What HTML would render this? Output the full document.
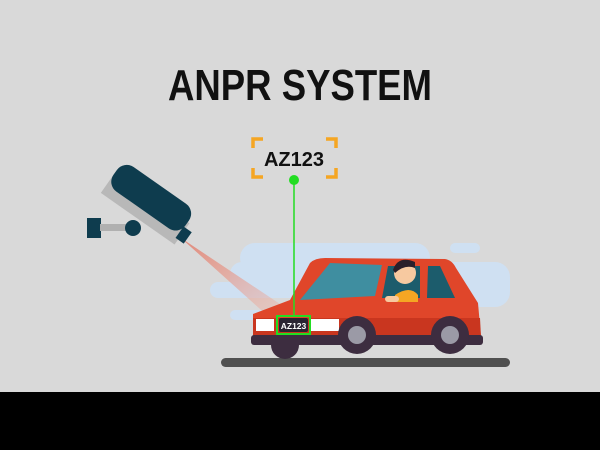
<!DOCTYPE html>
<html><head><meta charset="utf-8"><style>
html,body{margin:0;padding:0;width:600px;height:450px;overflow:hidden;background:#d9d9d9}
svg{display:block}
</style></head><body>
<svg width="600" height="450" viewBox="0 0 600 450" xmlns="http://www.w3.org/2000/svg">
<defs>
<linearGradient id="beam" x1="0" y1="0" x2="1" y2="1">
<stop offset="0" stop-color="#e07a6a" stop-opacity="0.95"/>
<stop offset="1" stop-color="#f0b0a0" stop-opacity="0.3"/>
</linearGradient>
</defs>
<rect x="0" y="0" width="600" height="450" fill="#d9d9d9"/>
<rect x="0" y="392" width="600" height="58" fill="#000"/>
<text x="300" y="100" text-anchor="middle" font-family="Liberation Sans, sans-serif" font-weight="bold" font-size="44" textLength="264" lengthAdjust="spacingAndGlyphs" fill="#111">ANPR SYSTEM</text>

<g stroke="#f5a623" stroke-width="3.5" fill="none">
<path d="M253,148 V139 H263"/><path d="M326,139 H336 V148"/>
<path d="M253,168 V177 H263"/><path d="M326,177 H336 V168"/>
</g>
<text x="294" y="166" text-anchor="middle" font-family="Liberation Sans, sans-serif" font-weight="bold" font-size="20" fill="#111">AZ123</text>

<g fill="#cfe0f2">
<rect x="240" y="243" width="190" height="30" rx="15"/>
<rect x="210" y="282" width="120" height="16" rx="8"/>
<rect x="230" y="262" width="140" height="30" rx="12"/>
<rect x="410" y="262" width="100" height="45" rx="15"/>
<rect x="380" y="247" width="30" height="10" rx="5"/>
<rect x="450" y="243" width="30" height="10" rx="5"/>
<rect x="230" y="310" width="40" height="10" rx="5"/>
</g>

<polygon points="172,230 184,240 292,312 270,318" fill="url(#beam)"/>

<g>
<rect x="87" y="218" width="14" height="20" fill="#0e3c4e"/>
<rect x="100" y="224" width="40" height="7" fill="#b0b0b0"/>
<circle cx="133" cy="228" r="8" fill="#0e3c4e"/>
<g transform="translate(148,204) rotate(35)">
<rect x="-45" y="-8" width="90" height="26" fill="#b8b8b8"/>
<rect x="-45" y="-22" width="88" height="30" rx="12" fill="#0e3c4e"/>
<rect x="42" y="-2" width="10" height="14" fill="#0e3c4e"/>
</g>
</g>

<rect x="221" y="358" width="289" height="9" rx="4.5" fill="#505050"/>

<g>
<circle cx="285" cy="345" r="14" fill="#3d2d40"/>
<path d="M253,314 L290,300 L310,263 Q315,258 325,258 L445,259 Q452,260 456,268 L478,303 L481,337 L253,337 Z" fill="#e0462a"/>
<path d="M330,263 L300,300 L375,296 L382,265 Z" fill="#3f8ea0"/>
<path d="M440,266 L428,266 L427,298 L455,298 Z" fill="#1c5c6c"/>
<path d="M388,266 L382,298 L420,298 L420,266 Z" fill="#1c5c6c"/>
<path d="M253,318 L480,318 L481,337 L253,337 Z" fill="#c9361f"/>
<rect x="256" y="319" width="18" height="12" fill="#fff"/>
<rect x="311" y="319" width="28" height="12" fill="#fff"/>
<rect x="251" y="335" width="232" height="10" rx="3" fill="#3d2d40"/>
<circle cx="357" cy="335" r="19" fill="#3d2d40"/><circle cx="357" cy="335" r="9" fill="#9b9aa6"/>
<circle cx="450" cy="335" r="19" fill="#3d2d40"/><circle cx="450" cy="335" r="9" fill="#9b9aa6"/>
<g>
<path d="M395,295 Q410,285 418,295 L418,302 L395,302 Z" fill="#f5a623"/>
<circle cx="405" cy="273" r="11" fill="#f7c9a0"/>
<path d="M393,270 Q398,255 415,262 L415,268 Q405,264 395,273 Z" fill="#2a1f2a"/>
<rect x="385" y="296" width="14" height="6" rx="3" fill="#f7c9a0"/>
</g>
</g>

<g>
<rect x="277" y="316" width="33" height="18" fill="none" stroke="#22dd22" stroke-width="2"/>
<rect x="279" y="318" width="29" height="14" rx="2" fill="#2b2533"/>
<text x="293.5" y="329" text-anchor="middle" font-family="Liberation Sans, sans-serif" font-weight="bold" font-size="8.5" fill="#fff">AZ123</text>
</g>

<line x1="294" y1="180" x2="294" y2="316" stroke="#22dd22" stroke-width="1.5"/>
<circle cx="294" cy="180" r="5" fill="#22dd22"/>
</svg>
</body></html>
